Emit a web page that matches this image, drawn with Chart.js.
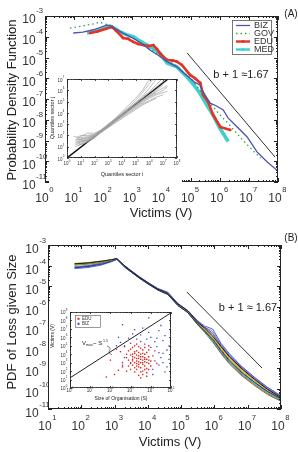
<!DOCTYPE html>
<html>
<head>
<meta charset="utf-8">
<script src="https://cdn.jsdelivr.net/npm/chart.js@4.4.0/dist/chart.umd.min.js"></script>
<style>
  body { margin: 0; background: #fff; }
  #wrap { position: relative; width: 298px; height: 452px; overflow: hidden; }
  canvas { position: absolute; }
</style>
</head>
<body>
<div id="wrap">
  <canvas id="gA" width="298" height="226" style="left:0;top:0"></canvas>
  <canvas id="gAin" width="133" height="108" style="left:49px;top:74px"></canvas>
  <canvas id="gB" width="298" height="226" style="left:0;top:226px"></canvas>
  <canvas id="gBin" width="128" height="98" style="left:49px;top:306px"></canvas>
</div>
<script>
// ---- panel A: PDF by sector, pairs are [log10 V, log10 pdf]
const biz = [[0.97,-3.82],[1.3,-3.78],[1.7,-3.65],[2.13,-3.43],[2.4,-3.6],[2.7,-3.85],[3.03,-4.07],[3.3,-4.3],
  [3.6,-4.64],[3.9,-4.9],[4.19,-5.2],[4.53,-5.45],[4.8,-5.8],[4.98,-6.0],[5.15,-6.2],[5.33,-6.33],[5.43,-6.66],
  [5.67,-7.2],[5.84,-7.3],[6.12,-7.53],[6.29,-7.92],[6.6,-8.35],[6.94,-8.83],[7.28,-9.55],[7.63,-10.04],[8.0,-10.47]]
const gov = [[0.86,-3.58],[1.2,-3.5],[1.6,-3.4],[1.89,-3.3],[2.2,-3.45],[2.6,-3.75],[3.0,-4.05],[3.5,-4.5],
  [4.0,-4.95],[4.5,-5.4],[5.0,-6.0],[5.5,-6.9],[5.9,-7.6],[6.3,-8.2],[6.8,-9.0],[7.4,-9.85]]
const edu = [[1.55,-3.82],[1.8,-3.75],[2.1,-3.62],[2.3,-3.52],[2.45,-3.72],[2.68,-4.06],[2.85,-4.1],[3.03,-4.25],
  [3.2,-4.35],[3.37,-4.4],[3.55,-4.45],[3.72,-4.4],[3.85,-4.6],[3.95,-4.8],[4.19,-5.12],[4.4,-5.15],[4.53,-5.2],
  [4.7,-5.36],[4.98,-5.84],[5.15,-6.0],[5.33,-6.23],[5.43,-6.8],[5.6,-7.14],[5.77,-7.77],[6.02,-8.35],[6.36,-8.49]]
const med = [[1.44,-3.82],[1.7,-3.72],[2.0,-3.6],[2.23,-3.48],[2.4,-3.6],[2.58,-3.77],[2.8,-3.9],[3.03,-4.0],
  [3.25,-4.2],[3.5,-4.4],[3.75,-4.6],[3.95,-4.8],[4.19,-5.27],[4.35,-5.35],[4.53,-5.45],[4.7,-5.7],[4.88,-5.94],
  [5.1,-6.3],[5.33,-6.75],[5.56,-7.3],[5.77,-7.77],[6.0,-8.4],[6.29,-9.05]]
const slopeA = [[4.88,-4.78],[7.9,-9.8]]

// inset A: quantile-quantile lines, [log10 q_i, log10 q_j]
const qqLines = [
  [[0.6,1.6],[1.0,1.7],[1.5,1.8],[2.0,2.0],[2.5,2.4],[3.0,2.9],[3.5,3.4],[4.0,3.9],[4.5,4.4],[5.0,4.9],[5.5,5.5],[6.0,6.2],[6.5,7.0]],
  [[0.7,1.3],[1.0,1.4],[1.5,1.6],[2.0,1.9],[2.5,2.3],[3.0,2.8],[3.5,3.3],[4.0,3.7],[4.5,4.2],[5.0,4.6],[5.5,5.0],[6.0,5.4],[6.5,5.7],[7.0,6.0],[7.3,6.3]],
  [[0.5,1.9],[1.0,1.8],[1.5,1.9],[2.0,2.1],[2.5,2.5],[3.0,3.0],[3.5,3.5],[4.0,4.0],[4.5,4.5],[5.0,5.1],[5.5,5.8],[6.0,6.6],[6.3,7.0]],
  [[0.8,1.1],[1.2,1.3],[1.6,1.6],[2.0,1.9],[2.5,2.4],[3.0,2.8],[3.5,3.2],[4.0,3.7],[4.5,4.1],[5.0,4.5],[5.5,4.9],[6.0,5.3],[6.5,5.6],[7.0,5.8],[7.3,5.9]],
  [[0.6,1.5],[1.0,1.5],[1.5,1.7],[2.0,2.0],[2.5,2.5],[3.0,2.9],[3.5,3.4],[4.0,3.8],[4.5,4.3],[5.0,4.8],[5.5,5.3],[6.0,5.8],[6.5,6.3],[7.0,6.8]],
  [[0.7,1.7],[1.1,1.6],[1.5,1.5],[2.0,1.8],[2.5,2.3],[3.0,2.7],[3.5,3.2],[4.0,3.6],[4.5,4.0],[5.0,4.4],[5.5,4.8],[6.0,5.1],[6.5,5.4],[7.0,5.6]],
  [[0.6,1.2],[1.0,1.3],[1.5,1.5],[2.0,1.9],[2.5,2.4],[3.0,2.9],[3.5,3.5],[4.0,4.1],[4.5,4.7],[5.0,5.3],[5.5,6.0],[5.9,6.8],[6.1,7.0]],
  [[0.7,1.8],[1.0,2.0],[1.5,2.0],[2.0,2.1],[2.5,2.4],[3.0,2.8],[3.5,3.3],[4.0,3.8],[4.5,4.2],[5.0,4.7],[5.5,5.1],[6.0,5.5],[6.5,5.9],[7.0,6.2],[7.3,6.4]],
  [[0.8,1.4],[1.2,1.5],[1.6,1.7],[2.0,1.9],[2.5,2.4],[3.0,2.9],[3.5,3.3],[4.0,3.8],[4.5,4.3],[5.0,4.7],[5.5,5.2],[6.0,5.6],[6.5,6.0],[7.0,6.5]],
  [[0.6,1.0],[1.0,1.2],[1.5,1.4],[2.0,1.8],[2.5,2.3],[3.0,2.8],[3.5,3.3],[4.0,3.7],[4.5,4.2],[5.0,4.6],[5.5,5.1],[6.0,5.5],[6.5,5.8]],
  [[0.7,1.6],[1.0,1.9],[1.5,2.2],[2.0,2.2],[2.5,2.5],[3.0,3.0],[3.5,3.4],[4.0,3.9],[4.5,4.4],[5.0,4.9],[5.5,5.4],[6.0,5.9],[6.5,6.5],[6.9,7.0]],
  [[0.6,1.3],[1.0,1.6],[1.5,1.8],[2.0,2.0],[2.5,2.3],[3.0,2.7],[3.5,3.1],[4.0,3.5],[4.5,3.9],[5.0,4.3],[5.5,4.7],[6.0,5.0],[6.5,5.3]]
]
const qqDiag = [[0,0],[7.35,7]]

// ---- panel B: PDF of loss given size, one row of log10 pdf per size class
const lossLogV = [1.8,2.2,2.6,2.9,3.07,3.3,3.5,3.75,4.0,4.3,4.6,4.9,5.2,5.5,5.7,5.95,6.2,6.45,6.8,7.2,7.6,8.0]
const lossCurves = [
  [-3.92,-3.88,-3.8,-3.72,-3.66,-4.02,-4.28,-4.58,-4.85,-5.16,-5.36,-5.88,-6.22,-6.78,-7.05,-7.45,-7.95,-8.45,-9.0,-9.55,-10.05,-10.45],
  [-4.15,-4.1,-3.98,-3.82,-3.7,-4.0,-4.25,-4.55,-4.82,-5.12,-5.3,-5.85,-6.2,-6.7,-6.95,-7.1,-7.8,-8.3,-8.9,-9.45,-9.95,-10.35],
  [-4.12,-4.05,-3.95,-3.8,-3.69,-4.08,-4.32,-4.62,-4.9,-5.2,-5.42,-5.95,-6.3,-6.88,-7.2,-7.6,-8.15,-8.65,-9.2,-9.7,-10.15,-10.5],
  [-3.95,-3.9,-3.82,-3.74,-3.67,-4.04,-4.3,-4.6,-4.86,-5.14,-5.38,-5.9,-6.26,-6.82,-7.12,-7.5,-8.05,-8.55,-9.1,-9.62,-10.1,-10.48],
  [-3.98,-3.93,-3.84,-3.75,-3.68,-4.06,-4.32,-4.62,-4.88,-5.18,-5.4,-5.95,-6.3,-6.9,-7.25,-7.75,-8.25,-8.75,-9.3,-9.8,-10.25,-10.6],
  [-4.08,-4.02,-3.9,-3.78,-3.7,-4.02,-4.26,-4.56,-4.84,-5.13,-5.35,-5.86,-6.2,-6.72,-7.0,-7.3,-7.9,-8.4,-8.95,-9.5,-10.0,-10.4],
  [-3.9,-3.86,-3.78,-3.72,-3.66,-4.05,-4.3,-4.6,-4.87,-5.17,-5.4,-5.92,-6.28,-6.85,-7.15,-7.55,-8.1,-8.6,-9.15,-9.68,-10.15,-10.5],
  [-3.94,-3.9,-3.82,-3.73,-3.67,-4.03,-4.29,-4.59,-4.86,-5.15,-5.37,-5.89,-6.24,-6.8,-7.1,-7.45,-8.0,-8.5,-9.05,-9.6,-10.08,-10.46],
  [-4.1,-4.04,-3.93,-3.8,-3.7,-4.07,-4.31,-4.61,-4.88,-5.17,-5.39,-5.93,-6.27,-6.85,-7.18,-7.65,-8.2,-8.7,-9.25,-9.75,-10.2,-10.55],
  [-3.93,-3.88,-3.81,-3.73,-3.67,-4.05,-4.3,-4.6,-4.86,-5.16,-5.38,-5.9,-6.25,-6.83,-7.15,-7.7,-8.3,-8.8,-9.35,-9.85,-10.3,-10.62],
  [-3.97,-3.92,-3.83,-3.74,-3.68,-4.04,-4.3,-4.6,-4.86,-5.15,-5.37,-5.9,-6.24,-6.78,-7.05,-7.35,-7.95,-8.45,-9.0,-9.55,-10.03,-10.42],
  [-4.05,-4.0,-3.88,-3.77,-3.69,-4.01,-4.27,-4.57,-4.84,-5.14,-5.34,-5.87,-6.22,-6.75,-7.0,-7.2,-7.85,-8.35,-8.9,-9.45,-9.95,-10.38]
]
const lossColors = ['#111111','#3b5bd6','#1a237e','#e0c000','#2e8b3a','#7a3fb0','#8b5a2b','#9aa02a','#2aa7b8','#c0392b','#888888','#6f8fe0']
const slopeB = [[5.17,-5.29],[7.43,-9.0]]

// inset B: organisation size vs victims, [log10 S, log10 V]
const eduPts = [[3.1,3.2],[3.3,3.5],[3.5,3.0],[3.2,4.1],[3.4,2.8],[3.6,3.7],[3.0,3.9],[3.7,2.6],[3.3,4.4],[3.5,4.0],
  [2.9,3.3],[3.8,3.4],[3.1,2.7],[3.6,4.5],[3.4,3.8],[3.2,3.0],[3.7,3.1],[3.0,4.6],[3.5,2.4],[3.3,2.2],
  [3.9,2.9],[3.8,4.2],[2.8,4.0],[3.4,4.9],[3.6,2.0],[3.2,3.6],[3.9,3.7],[3.1,4.8],[3.5,3.4],[3.7,4.0],
  [2.7,3.6],[3.3,3.2],[4.0,3.2],[3.6,3.3],[3.4,2.5],[3.0,3.0],[3.8,2.3],[3.2,4.3],[3.5,4.7],[3.9,4.5],
  [2.9,2.6],[3.6,2.8],[3.3,5.2],[3.7,3.6],[3.1,3.4],[3.4,4.2],[3.8,1.8],[3.5,1.9],[3.2,2.4],[4.1,3.8],
  [2.6,3.0],[3.0,2.2],[3.7,4.8],[3.3,3.9],[3.6,4.1],[3.9,3.3],[3.4,3.1],[3.1,4.0],[3.5,3.7],[3.8,3.0],
  [2.5,4.3],[2.4,2.1],[3.2,5.0],[4.0,2.6],[3.6,1.6],[3.4,1.5],[2.8,2.0],[3.9,2.2],[3.3,2.9],[3.7,2.2],
  [2.3,4.6],[2.7,4.9],[3.0,5.3],[3.5,5.5],[3.9,5.0],[4.2,4.4],[4.3,2.9],[3.8,1.4],[3.5,1.2],[2.2,1.6],
  [1.8,1.3],[2.0,3.3],[2.6,2.5],[2.9,4.4],[3.2,1.9],[3.6,3.0],[3.4,3.5],[3.1,3.7],[3.7,3.4],[3.3,2.6]]
const bizPts = [[2.6,7.5],[3.6,7.1],[3.9,8.3],[4.4,6.8],[4.6,5.6],[4.2,5.5],[4.8,4.5],[4.5,3.6],[4.0,6.0],[3.8,5.8],
  [2.9,5.9],[2.5,5.4],[2.7,5.0],[3.3,5.8],[4.3,4.9],[4.7,6.2],[4.9,3.4],[4.1,2.2],[4.4,2.7],[4.0,4.8],
  [3.1,6.4],[2.4,6.0],[2.8,3.6],[4.6,4.1],[4.2,3.2],[4.8,2.5],[3.5,6.3],[4.5,7.4],[4.1,1.6],[4.7,1.9],
  [3.0,2.9],[2.6,2.7],[4.3,5.9],[3.7,5.2],[4.9,5.0],[4.4,4.2],[3.2,6.9],[2.3,5.0],[4.6,3.0],[3.9,6.6]]
const vmaxLine = [[0,1.2],[5,8.9]]

const fam = '"Liberation Sans", Arial, sans-serif'
const toPts = arr => arr.map(([a, b]) => ({ x: 10 ** a, y: 10 ** b }))

// "10" with a raised exponent, (cx, cy) = centre of the "10"
function drawPow(ctx, cx, cy, e, fs) {
  ctx.font = fs + 'px ' + fam
  const w = ctx.measureText('10').width
  ctx.textAlign = 'center'
  ctx.textBaseline = 'middle'
  ctx.fillText('10', cx, cy)
  ctx.font = (fs * 0.64) + 'px ' + fam
  ctx.textAlign = 'left'
  ctx.fillText(String(e), cx + w / 2 + fs * 0.04, cy - fs * 0.72)
}

function framePlugin(o) {
  return {
    id: 'frame',
    beforeDraw(chart) {
      if (!o.bg) return
      const c = chart.ctx
      c.save(); c.fillStyle = '#fff'; c.fillRect(0, 0, chart.width, chart.height); c.restore()
    },
    afterDraw(chart) {
      const { ctx, chartArea: a } = chart
      const sx = chart.scales.x, sy = chart.scales.y
      ctx.save()
      ctx.strokeStyle = '#222'
      ctx.lineWidth = o.lw
      ctx.strokeRect(a.left + 0.5, a.top + 0.5, a.right - a.left - 1, a.bottom - a.top - 1)
      ctx.beginPath()
      for (let e = o.xr[0]; e <= o.xr[1]; e++) {
        for (let m = 1; m < 10; m++) {
          if (e === o.xr[1] && m > 1) break
          const p = Math.round(sx.getPixelForValue(m * 10 ** e)) + 0.5
          const L = m === 1 ? o.maj : o.mnr
          ctx.moveTo(p, a.bottom); ctx.lineTo(p, a.bottom - L)
          ctx.moveTo(p, a.top); ctx.lineTo(p, a.top + L)
        }
      }
      for (let e = o.yr[0]; e <= o.yr[1]; e++) {
        for (let m = 1; m < 10; m++) {
          if (e === o.yr[1] && m > 1) break
          const p = Math.round(sy.getPixelForValue(m * 10 ** e)) + 0.5
          const L = m === 1 ? o.maj : o.mnr
          ctx.moveTo(a.left, p); ctx.lineTo(a.left + L, p)
          ctx.moveTo(a.right, p); ctx.lineTo(a.right - L, p)
        }
      }
      ctx.stroke()
      ctx.fillStyle = '#333'
      for (let e = o.xr[0]; e <= o.xr[1]; e++) {
        drawPow(ctx, sx.getPixelForValue(10 ** e) + o.xdx, a.bottom + o.xdy, e, o.fs)
      }
      for (let e = o.yr[0]; e <= o.yr[1]; e++) {
        drawPow(ctx, a.left + o.ydx, sy.getPixelForValue(10 ** e) + o.ydy, e, o.fs)
      }
      ctx.fillStyle = '#222'
      ctx.font = o.tfs + 'px ' + fam
      ctx.textAlign = 'center'
      ctx.textBaseline = 'middle'
      ctx.fillText(o.xt, o.xtp[0], o.xtp[1])
      ctx.save()
      ctx.translate(o.ytp[0], o.ytp[1])
      ctx.rotate(-Math.PI / 2)
      ctx.fillText(o.yt, 0, 0)
      ctx.restore()
      if (o.extra) o.extra(chart, ctx)
      ctx.restore()
    }
  }
}

function baseOpts(pad, xmin, xmax, ymin, ymax) {
  return {
    responsive: false,
    animation: false,
    layout: { padding: pad },
    plugins: { legend: { display: false }, tooltip: { enabled: false } },
    scales: {
      x: { type: 'logarithmic', min: xmin, max: xmax, display: false },
      y: { type: 'logarithmic', min: ymin, max: ymax, display: false }
    }
  }
}

// ---------------- panel A
const seriesA = [
  { label: 'BIZ', data: biz, color: '#5050b0', width: 1.3, dash: [], dot: 0 },
  { label: 'GOV', data: gov, color: '#2fa84f', width: 1.3, dash: [1.5, 3], dot: 0 },
  { label: 'EDU', data: edu, color: '#e53222', width: 2.6, dash: [], dot: 1.4 },
  { label: 'MED', data: med, color: '#3fcfcf', width: 3.6, dash: [], dot: 0 }
]

new Chart(document.getElementById('gA'), {
  type: 'scatter',
  data: {
    datasets: [
      { data: toPts(slopeA), showLine: true, borderColor: '#333', borderWidth: 1, pointRadius: 0 }
    ].concat(seriesA.map(s => ({
      label: s.label, data: toPts(s.data), showLine: true, borderColor: s.color, borderWidth: s.width,
      borderDash: s.dash, pointRadius: s.dot, pointBackgroundColor: s.color, pointBorderWidth: 0
    })))
  },
  options: baseOpts({ left: 45, right: 20, top: 16, bottom: 44 }, 1, 1e8, 1e-11, 1e-3),
  plugins: [framePlugin({
    xr: [0, 8], yr: [-11, -3], lw: 1, maj: 4, mnr: 2, fs: 12,
    xdx: -3, xdy: 17, ydx: -16, ydy: 4, tfs: 13,
    xt: 'Victims (V)', xtp: [161, 213], yt: 'Probability Density Function', ytp: [12, 100],
    extra(chart, ctx) {
      // legend box
      ctx.fillStyle = '#fff'
      ctx.fillRect(232, 20, 39, 34)
      ctx.strokeStyle = '#555'; ctx.lineWidth = 0.8
      ctx.strokeRect(232.5, 20.5, 39, 34)
      ctx.font = '9px ' + fam; ctx.textAlign = 'left'; ctx.textBaseline = 'middle'
      seriesA.forEach((s, i) => {
        const yy = 25.5 + i * 8
        ctx.strokeStyle = s.color; ctx.lineWidth = Math.min(s.width, 2.4); ctx.setLineDash(s.dash)
        ctx.beginPath(); ctx.moveTo(236, yy); ctx.lineTo(250, yy); ctx.stroke()
        ctx.setLineDash([])
        if (i >= 2) { ctx.fillStyle = s.color; ctx.beginPath(); ctx.arc(243, yy, 1.6, 0, Math.PI * 2); ctx.fill() }
        ctx.fillStyle = '#333'
        ctx.fillText(s.label, 254, yy + 0.5)
      })
      ctx.fillStyle = '#222'
      ctx.font = '11px ' + fam; ctx.textAlign = 'center'
      ctx.fillText('b + 1 \u22481.67', 241, 75)
      ctx.font = '10px ' + fam
      ctx.fillText('(A)', 291, 14)
    }
  })]
})

// ---------------- inset A
new Chart(document.getElementById('gAin'), {
  type: 'scatter',
  data: {
    datasets: qqLines.map(l => ({
      data: toPts(l), showLine: true, borderColor: '#a0a0a0', borderWidth: 0.7, pointRadius: 0
    })).concat([{ data: toPts(qqDiag), showLine: true, borderColor: '#111', borderWidth: 1.4, pointRadius: 0 }])
  },
  options: baseOpts({ left: 18, right: 5, top: 5, bottom: 24 }, 1, 1e8, 1, 1e7),
  plugins: [framePlugin({
    bg: true, xr: [0, 8], yr: [0, 7], lw: 0.8, maj: 2, mnr: 1, fs: 4.5,
    xdx: -1, xdy: 6, ydx: -7, ydy: 1.5, tfs: 5.5,
    xt: 'Quantiles sector i', xtp: [73, 100], yt: 'Quantiles sector j', ytp: [3, 44]
  })]
})

// ---------------- panel B
new Chart(document.getElementById('gB'), {
  type: 'scatter',
  data: {
    datasets: lossCurves.map((c, i) => ({
      data: c.map((v, j) => ({ x: 10 ** lossLogV[j], y: 10 ** v })), showLine: true,
      borderColor: lossColors[i], borderWidth: 0.9, pointRadius: 0
    })).concat([{ data: toPts(slopeB), showLine: true, borderColor: '#333', borderWidth: 1, pointRadius: 0 }])
  },
  options: baseOpts({ left: 48, right: 17, top: 19, bottom: 43 }, 10, 1e8, 1e-11, 1e-3),
  plugins: [framePlugin({
    xr: [1, 8], yr: [-11, -3], lw: 1, maj: 4, mnr: 2, fs: 12,
    xdx: -3, xdy: 18, ydx: -16, ydy: 5, tfs: 13,
    xt: 'Victims (V)', xtp: [170, 216], yt: 'PDF of Loss given Size', ytp: [12, 96],
    extra(chart, ctx) {
      ctx.fillStyle = '#222'
      ctx.font = '11px ' + fam; ctx.textAlign = 'center'; ctx.textBaseline = 'middle'
      ctx.fillText('b + 1 \u2248 1.67', 248, 82)
      ctx.font = '10px ' + fam
      ctx.fillText('(B)', 291, 12)
    }
  })]
})

// ---------------- inset B
new Chart(document.getElementById('gBin'), {
  type: 'scatter',
  data: {
    datasets: [
      { label: 'BIZ', data: toPts(bizPts), backgroundColor: '#3344cc', pointStyle: 'rect', pointRadius: 0.9, borderWidth: 0 },
      { label: 'EDU', data: toPts(eduPts), backgroundColor: '#e02a20', pointStyle: 'rect', pointRadius: 1, borderWidth: 0 },
      { data: toPts(vmaxLine), showLine: true, borderColor: '#222', borderWidth: 1, pointRadius: 0 }
    ]
  },
  options: baseOpts({ left: 21, right: 6, top: 6, bottom: 16 }, 1, 1e5, 1, 1e9),
  plugins: [framePlugin({
    bg: true, xr: [0, 5], yr: [0, 9], lw: 0.8, maj: 2, mnr: 1, fs: 4.5,
    xdx: -1, xdy: 3, ydx: -7, ydy: 1.2, tfs: 5,
    xt: 'Size of Organisation (S)', xtp: [72, 93], yt: 'Victims (V)', ytp: [4, 30],
    extra(chart, ctx) {
      // legend
      ctx.fillStyle = '#fff'; ctx.fillRect(26, 9, 25, 12)
      ctx.strokeStyle = '#555'; ctx.lineWidth = 0.6; ctx.strokeRect(26.5, 9.5, 25, 12)
      ctx.font = '4.5px ' + fam; ctx.textAlign = 'left'; ctx.textBaseline = 'middle'
      ctx.fillStyle = '#e02a20'; ctx.fillRect(28.5, 11.8, 2, 2)
      ctx.fillStyle = '#3344cc'; ctx.fillRect(28.5, 16.8, 2, 2)
      ctx.fillStyle = '#333'
      ctx.fillText('EDU', 33, 13)
      ctx.fillText('BIZ', 33, 18)
      // V_max ~ S^1.5 note
      ctx.fillStyle = '#222'
      ctx.font = '6px ' + fam
      ctx.fillText('V', 33, 37)
      ctx.font = '3.6px ' + fam
      ctx.fillText('max', 37, 39)
      ctx.font = '6px ' + fam
      ctx.fillText('~ S', 44, 37)
      ctx.font = '3.6px ' + fam
      ctx.fillText('1.5', 54, 34.5)
      ctx.strokeStyle = '#222'; ctx.lineWidth = 0.6
      ctx.beginPath()
      ctx.moveTo(58, 40)
      ctx.quadraticCurveTo(63, 42, 60, 45)
      ctx.quadraticCurveTo(59, 47, 63, 49)
      ctx.stroke()
    }
  })]
})
</script>
</body>
</html>
